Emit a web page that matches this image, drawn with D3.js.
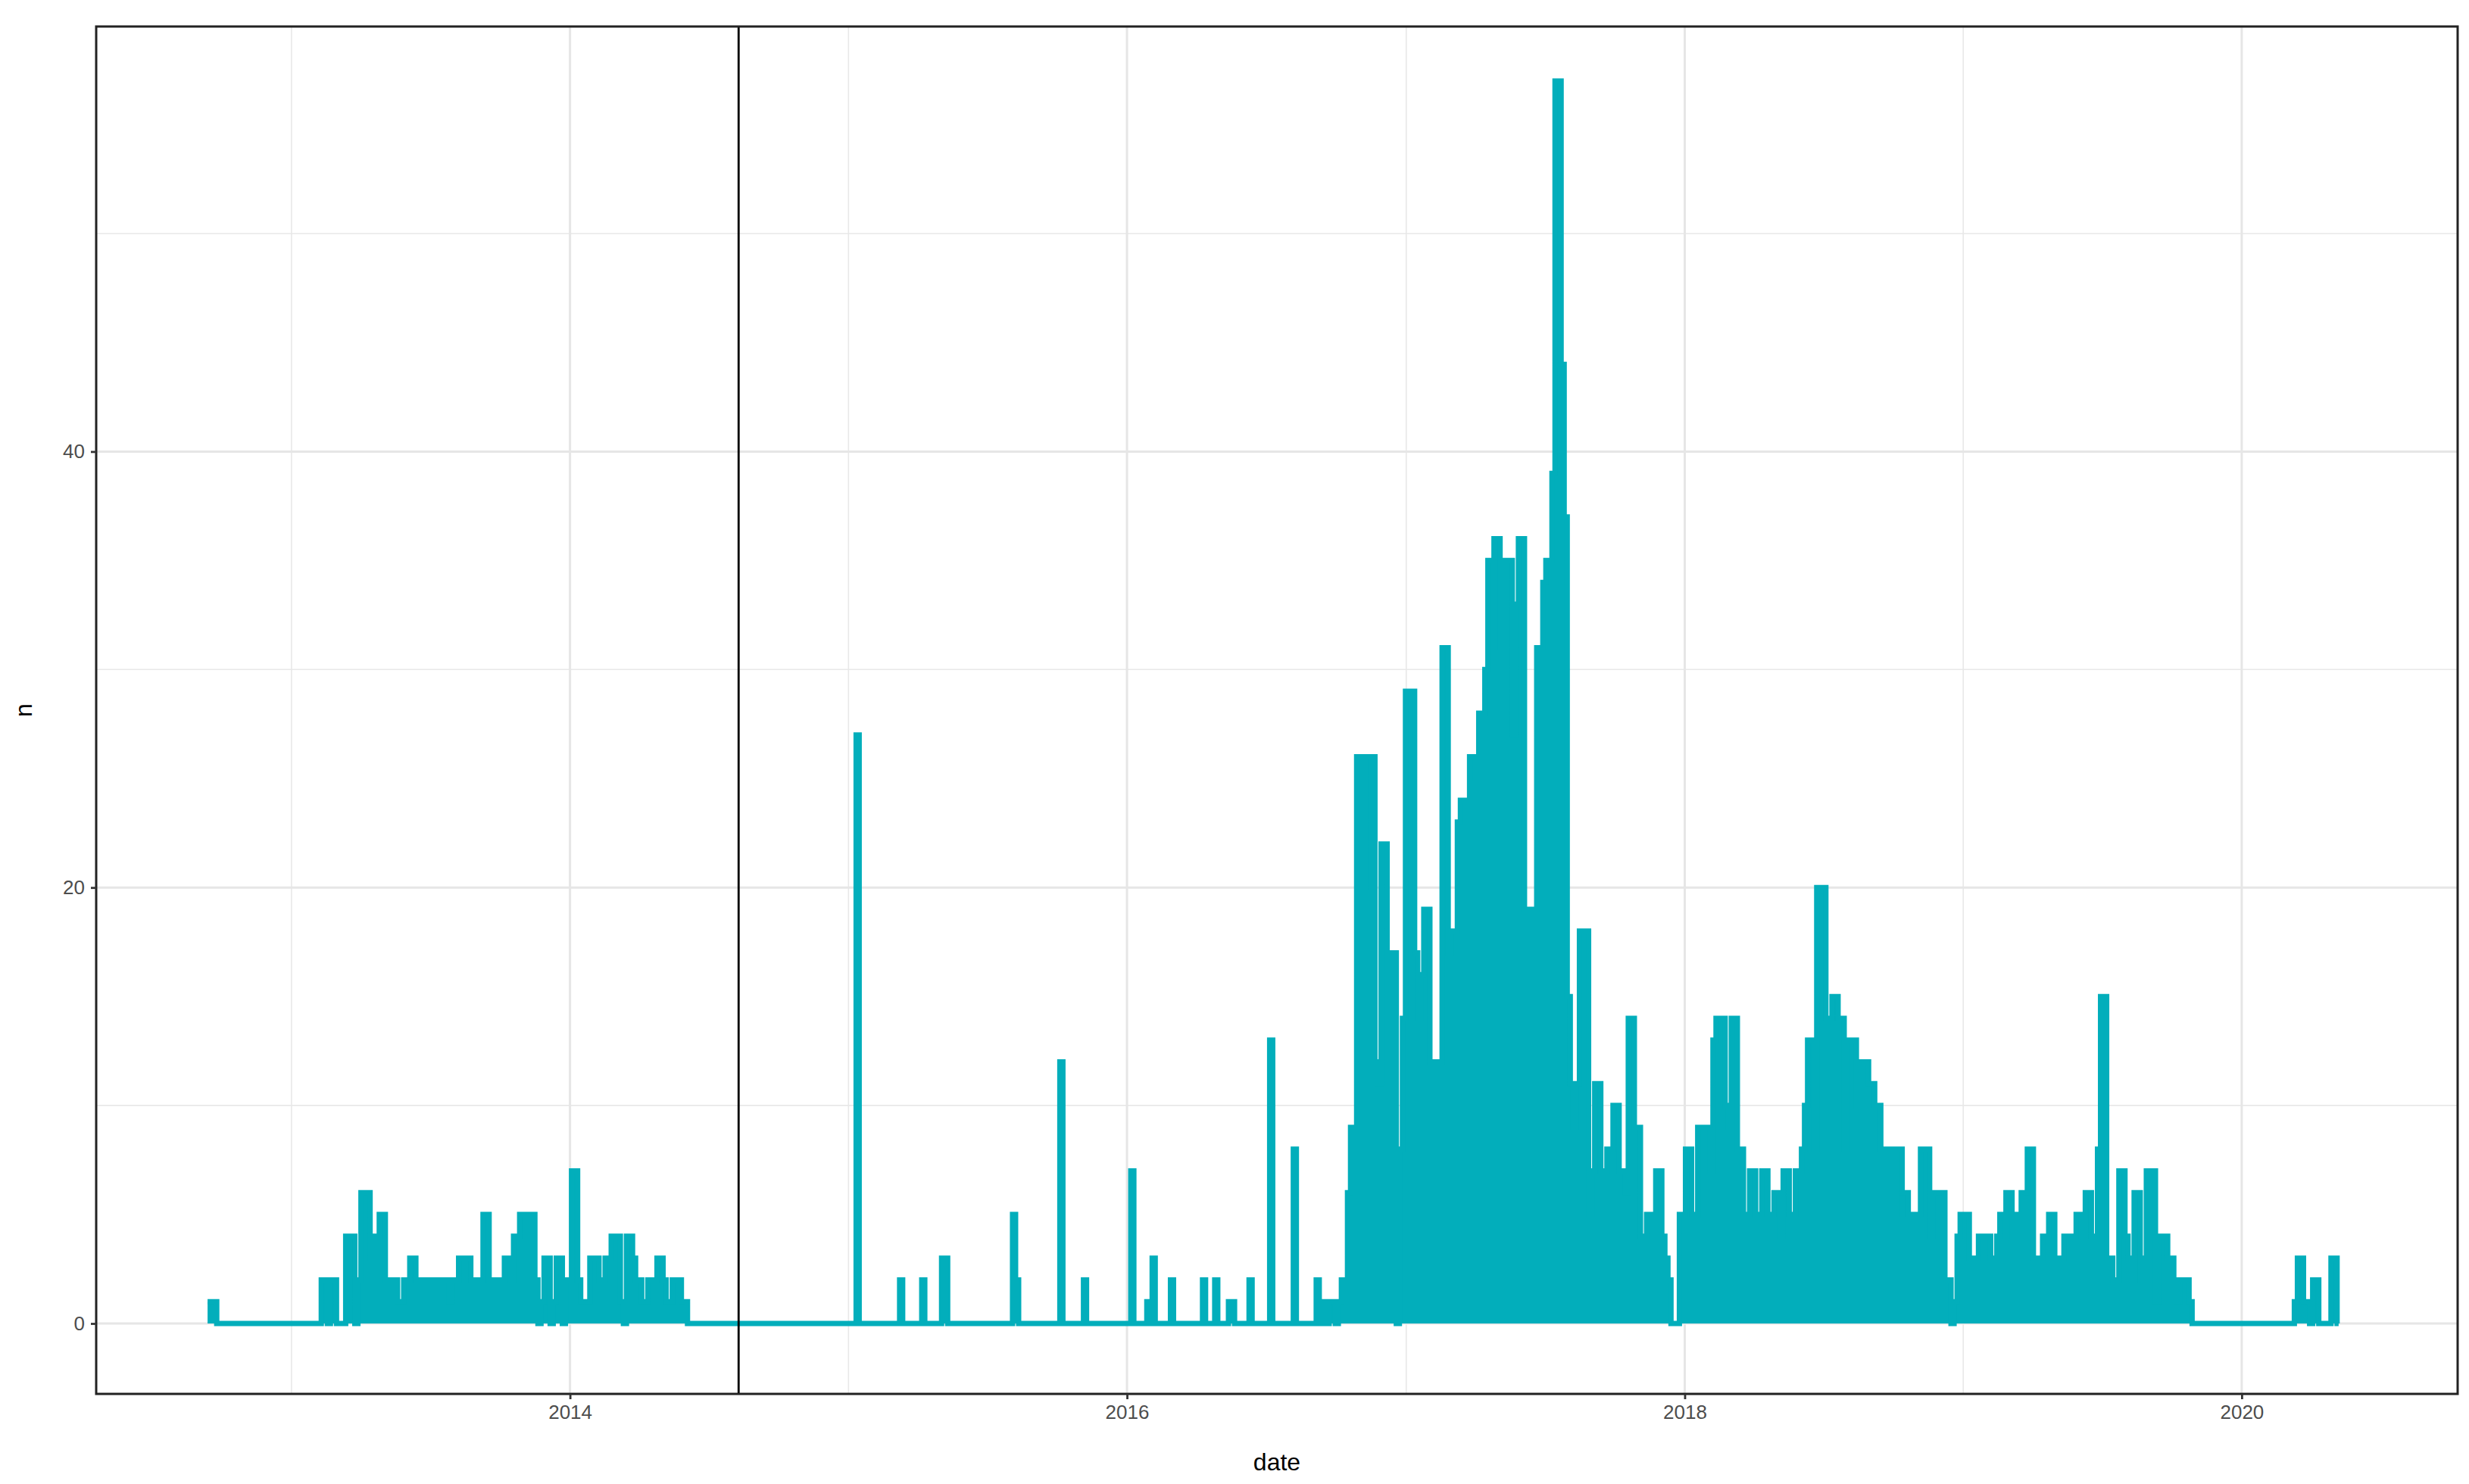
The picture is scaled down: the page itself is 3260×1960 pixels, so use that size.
<!DOCTYPE html>
<html>
<head>
<meta charset="utf-8">
<script src="https://cdn.jsdelivr.net/npm/d3@7"></script>
<style>
  body { margin: 0; background: #fff; }
  text { font-family: "Liberation Sans", Arial, sans-serif; }
</style>
</head>
<body>
<div id="chart"></div>
<script>
// --------------- Data ---------------
// each segment: start date, then [n, number of 4-day slots]
const STEP_DAYS = 4;
const SEGMENTS = [
  { start: "2012-09-13", runs: [[1, 3]] },
  { start: "2013-02-09", runs: [
    [2, 2], [0, 1], [2, 2], [0, 3], [4, 3], [0, 1], [2, 1], [6, 3], [3, 1], [4, 2],
    [5, 2], [2, 4], [1, 2], [2, 2], [3, 2], [2, 11], [1, 1], [2, 2], [3, 4], [2, 4],
    [5, 2], [2, 5], [3, 2], [2, 1], [4, 2], [5, 5], [2, 1], [0, 1], [1, 1], [3, 2],
    [0, 1], [1, 1], [3, 2], [0, 1], [2, 2], [7, 2], [2, 1], [1, 3], [3, 3], [2, 2],
    [3, 2], [4, 3], [1, 1], [0, 1], [4, 2], [3, 1], [2, 2], [1, 2], [2, 3], [3, 2],
    [2, 1], [1, 2], [2, 3], [1, 2]] },
  { start: "2016-09-22", runs: [
    [1, 2], [0, 1], [1, 1], [2, 2], [6, 1], [9, 2], [26, 2], [20, 1], [26, 3], [12, 1],
    [11, 1], [22, 2], [17, 3], [0, 1], [8, 1], [14, 1], [29, 3], [17, 1], [14, 1], [16, 1],
    [19, 2], [12, 4], [31, 2], [17, 1], [18, 2], [23, 1], [24, 3], [26, 2], [25, 1], [28, 2],
    [30, 1], [35, 2], [36, 2], [31, 1], [35, 3], [27, 1], [33, 1], [36, 2], [19, 2], [15, 1],
    [19, 1], [31, 2], [34, 1], [35, 2], [39, 1], [57, 2], [44, 1], [37, 1], [15, 1], [11, 1],
    [9, 1], [11, 1], [18, 3], [5, 1], [7, 1], [11, 2], [7, 2], [8, 2], [10, 2], [7, 2],
    [6, 1], [14, 2], [9, 2], [4, 2], [5, 3], [7, 2], [4, 1], [3, 1], [2, 1]] },
  { start: "2017-12-21", runs: [
    [0, 1], [5, 2], [8, 2], [5, 2], [9, 4], [7, 1], [13, 1], [14, 3], [10, 1], [9, 1],
    [14, 2], [8, 2], [5, 2], [7, 2], [5, 2], [7, 2], [5, 2], [6, 2], [4, 1], [7, 2],
    [5, 2], [7, 2], [8, 1], [10, 1], [13, 2], [8, 1], [20, 3], [14, 2], [15, 2], [14, 2],
    [8, 1], [13, 3], [10, 1], [12, 3], [11, 2], [10, 2], [8, 4], [5, 1], [8, 2], [6, 2],
    [5, 4], [8, 3], [4, 1], [6, 4], [2, 2], [0, 1], [1, 1], [4, 1], [5, 3], [3, 3],
    [4, 4], [3, 2], [4, 1], [5, 2], [6, 2], [4, 1], [5, 2], [6, 2], [8, 2], [3, 3],
    [4, 2], [5, 2], [3, 3], [4, 4], [5, 3], [6, 2], [4, 2], [8, 1], [15, 2], [3, 2],
    [2, 2], [7, 2], [4, 1], [3, 2], [6, 2], [2, 1], [3, 1], [7, 3], [1, 1], [4, 3],
    [3, 2], [2, 1], [1, 1], [2, 3], [1, 1]] },
  { start: "2020-03-10", runs: [[1, 1], [3, 2], [1, 2], [0, 1], [2, 2], [0, 4], [3, 2]] }
];
// single isolated days: [date, n]
const SPIKES = [
  ["2015-01-11", 27], ["2015-03-09", 2], ["2015-04-07", 2], ["2015-05-03", 3], ["2015-05-07", 3],
  ["2015-08-04", 5], ["2015-08-08", 2], ["2015-10-05", 12], ["2015-11-05", 2], ["2016-01-06", 7],
  ["2016-01-27", 1], ["2016-02-03", 3], ["2016-02-27", 2], ["2016-04-09", 2], ["2016-04-25", 2],
  ["2016-05-13", 1], ["2016-05-17", 1], ["2016-06-09", 2], ["2016-07-06", 13], ["2016-08-06", 8],
  ["2016-09-05", 2], ["2016-09-13", 1]
];
const LAST_DAY = "2020-05-07";
const VLINE_DATE = "2014-08-10";
const X_MAJOR = [2014, 2016, 2018, 2020];
const X_MINOR = [2013, 2015, 2017, 2019];
const Y_MAJOR = [0, 20, 40];
const Y_MINOR = [10, 30, 50];

// --------------- Constants ---------------
const W = 3260, H = 1960;
const PANEL = { left: 127, right: 3245, top: 35, bottom: 1841 };
const COLOR = "#02aebb";
const parse = d3.timeParse("%Y-%m-%d");
const yr = (y) => new Date(y, 0, 1);

// build points from segments
const points = [];
SEGMENTS.forEach((s) => {
  let d = parse(s.start);
  s.runs.forEach(([n, k]) => {
    for (let i = 0; i < k; i++) {
      points.push({ date: d, n });
      d = d3.timeDay.offset(d, STEP_DAYS);
    }
  });
  points.push({ date: d, n: 0 });
});
SPIKES.forEach(([ds, n]) => {
  const d = parse(ds);
  points.push({ date: d, n });
  points.push({ date: d3.timeDay.offset(d, STEP_DAYS), n: 0 });
});
points.push({ date: parse(LAST_DAY), n: 0 });
points.sort((a, b) => a.date - b.date);

// --------------- Prep SVG ---------------
const svg = d3.select("#chart").append("svg").attr("width", W).attr("height", H);

const x = d3.scaleTime()
  .domain([parse("2012-04-20"), parse("2020-10-10")])
  .range([PANEL.left, PANEL.right]);
const y = d3.scaleLinear().domain([-3.23, 59.5]).range([PANEL.bottom, PANEL.top]);

// grid
const grid = svg.append("g");
X_MINOR.forEach((v) => grid.append("line").attr("x1", x(yr(v))).attr("x2", x(yr(v)))
  .attr("y1", PANEL.top).attr("y2", PANEL.bottom).attr("stroke", "#e8e8e8").attr("stroke-width", 1.6));
Y_MINOR.forEach((v) => grid.append("line").attr("y1", y(v)).attr("y2", y(v))
  .attr("x1", PANEL.left).attr("x2", PANEL.right).attr("stroke", "#e8e8e8").attr("stroke-width", 1.6));
X_MAJOR.forEach((v) => grid.append("line").attr("x1", x(yr(v))).attr("x2", x(yr(v)))
  .attr("y1", PANEL.top).attr("y2", PANEL.bottom).attr("stroke", "#e6e6e6").attr("stroke-width", 3));
Y_MAJOR.forEach((v) => grid.append("line").attr("y1", y(v)).attr("y2", y(v))
  .attr("x1", PANEL.left).attr("x2", PANEL.right).attr("stroke", "#e6e6e6").attr("stroke-width", 3));

// series
const area = d3.area().curve(d3.curveStepAfter)
  .x((d) => x(d.date)).y0(y(0)).y1((d) => y(d.n));
const line = d3.line().curve(d3.curveStepAfter)
  .x((d) => x(d.date)).y((d) => y(d.n));
svg.append("path").datum(points).attr("d", area).attr("fill", COLOR);
svg.append("path").datum(points).attr("d", line).attr("fill", "none")
  .attr("stroke", COLOR).attr("stroke-width", 7).attr("stroke-linejoin", "miter");

// vertical marker
svg.append("line").attr("x1", x(parse(VLINE_DATE))).attr("x2", x(parse(VLINE_DATE)))
  .attr("y1", PANEL.top).attr("y2", PANEL.bottom).attr("stroke", "#000").attr("stroke-width", 2.8);

// panel border
svg.append("rect").attr("x", PANEL.left).attr("y", PANEL.top)
  .attr("width", PANEL.right - PANEL.left).attr("height", PANEL.bottom - PANEL.top)
  .attr("fill", "none").attr("stroke", "#222").attr("stroke-width", 3);

// axes
const xAxis = d3.axisBottom(x).tickValues(X_MAJOR.map(yr)).tickFormat(d3.timeFormat("%Y"))
  .tickSize(7).tickPadding(8);
const gx = svg.append("g").attr("transform", `translate(0,${PANEL.bottom})`).call(xAxis);
const yAxis = d3.axisLeft(y).tickValues(Y_MAJOR).tickSize(7).tickPadding(8);
const gy = svg.append("g").attr("transform", `translate(${PANEL.left},0)`).call(yAxis);
[gx, gy].forEach((g) => {
  g.select(".domain").remove();
  g.selectAll(".tick line").attr("stroke", "#333").attr("stroke-width", 2.8);
  g.selectAll(".tick text").attr("fill", "#4d4d4d").style("font-size", "26px");
});

svg.append("text").attr("x", (PANEL.left + PANEL.right) / 2).attr("y", 1942)
  .attr("text-anchor", "middle").style("font-size", "32px").attr("fill", "#000").text("date");
svg.append("text").attr("transform", `translate(42,${(PANEL.top + PANEL.bottom) / 2}) rotate(-90)`)
  .attr("text-anchor", "middle").style("font-size", "32px").attr("fill", "#000").text("n");
</script>
</body>
</html>
